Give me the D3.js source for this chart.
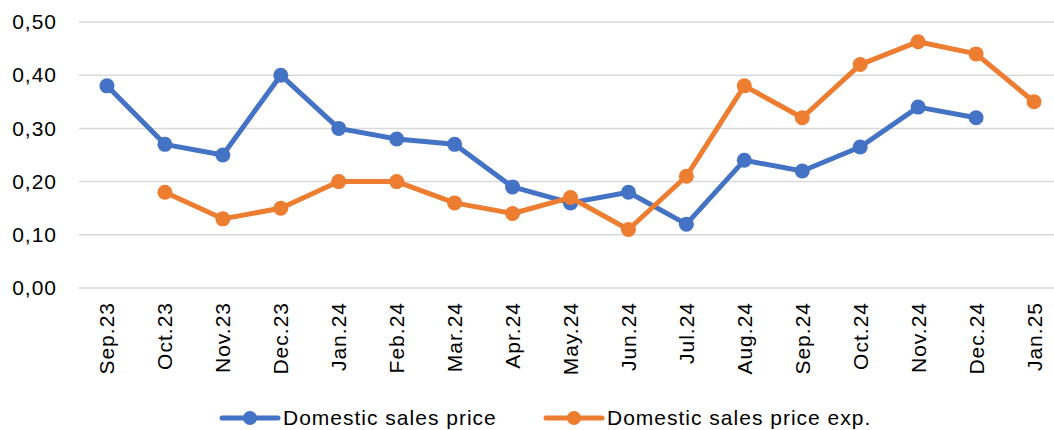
<!DOCTYPE html>
<html>
<head>
<meta charset="utf-8">
<script src="https://cdn.jsdelivr.net/npm/d3@7"></script>
<style>
  body { margin: 0; background: #fff; }
  text { font-family: "Liberation Sans", Arial, sans-serif; fill: #000; }
</style>
</head>
<body>
<svg id="chart" width="1054" height="430"></svg>
<script>
var months = ["Sep.23", "Oct.23", "Nov.23", "Dec.23", "Jan.24", "Feb.24", "Mar.24", "Apr.24", "May.24",
              "Jun.24", "Jul.24", "Aug.24", "Sep.24", "Oct.24", "Nov.24", "Dec.24", "Jan.25"];
var salesPrice = [0.38, 0.27, 0.25, 0.40, 0.30, 0.28, 0.27, 0.19, 0.16, 0.18, 0.12, 0.24, 0.22, 0.265, 0.34, 0.32, null];
var salesPriceExp = [null, 0.18, 0.13, 0.15, 0.20, 0.20, 0.16, 0.14, 0.17, 0.11, 0.21, 0.38, 0.32, 0.42, 0.463, 0.44, 0.35];
var yTicks = [0, 0.1, 0.2, 0.3, 0.4, 0.5];
var seriesNames = ["Domestic sales price", "Domestic sales price exp."];
var colors = ["#4472C4", "#ED7D31"];

var svg = d3.select("#chart");

var x = d3.scalePoint()
      .domain(months)
      .range([78, 1063])
      .padding(0.5);

var y = d3.scaleLinear()
      .domain([0, 0.5])
      .range([288, 22]);

var fmt = function(d) { return d3.format(".2f")(d).replace(".", ","); };

// gridlines
svg.append("g")
      .selectAll("line")
      .data(yTicks)
      .enter()
      .append("line")
      .attr("x1", 79)
      .attr("x2", 1054)
      .attr("y1", function(d) { return y(d); })
      .attr("y2", function(d) { return y(d); })
      .attr("stroke", "#d9d9d9")
      .attr("stroke-width", 1.5);

// y axis labels
var yAxis = svg.append("g")
      .attr("transform", "translate(57,0)")
      .call(d3.axisLeft(y).tickValues(yTicks).tickFormat(fmt).tickSize(0).tickPadding(0));
yAxis.select(".domain").remove();
yAxis.selectAll("text")
      .attr("font-size", "21px")
      .attr("letter-spacing", "1px")
      .attr("font-family", "Liberation Sans, Arial, sans-serif")
      .attr("fill", "#000");

// x axis labels
var xAxis = svg.append("g")
      .attr("transform", "translate(0,288)")
      .call(d3.axisBottom(x).tickSize(0).tickPadding(0));
xAxis.select(".domain").remove();
xAxis.selectAll("text")
      .attr("font-size", "21px")
      .attr("letter-spacing", "1px")
      .attr("font-family", "Liberation Sans, Arial, sans-serif")
      .attr("fill", "#000")
      .attr("text-anchor", "end")
      .attr("dy", null)
      .attr("y", 0)
      .attr("transform", "translate(7,14) rotate(-90)");

// lines and markers
[salesPrice, salesPriceExp].forEach(function(series, k) {
  var line = d3.line()
        .defined(function(d) { return d != null; })
        .x(function(d, i) { return x(months[i]); })
        .y(function(d) { return y(d); });

  svg.append("path")
        .datum(series)
        .attr("d", line)
        .attr("fill", "none")
        .attr("stroke", colors[k])
        .attr("stroke-width", 5)
        .attr("stroke-linejoin", "round");

  svg.append("g")
        .selectAll("circle")
        .data(series.map(function(d, i) { return {v: d, m: months[i]}; })
                    .filter(function(d) { return d.v != null; }))
        .enter()
        .append("circle")
        .attr("cx", function(d) { return x(d.m); })
        .attr("cy", function(d) { return y(d.v); })
        .attr("r", 7.5)
        .attr("fill", colors[k]);
});

// legend
var legendX = [222, 546];
var legend = svg.append("g")
      .selectAll("g")
      .data(seriesNames)
      .enter()
      .append("g")
      .attr("transform", function(d, i) { return "translate(" + legendX[i] + ",418)"; });

legend.append("line")
      .attr("x1", 0)
      .attr("x2", 56)
      .attr("stroke", function(d, i) { return colors[i]; })
      .attr("stroke-width", 5)
      .attr("stroke-linecap", "round");

legend.append("circle")
      .attr("cx", 28)
      .attr("r", 7)
      .attr("fill", function(d, i) { return colors[i]; });

legend.append("text")
      .attr("x", 61)
      .attr("y", 7)
      .attr("font-size", "21px")
      .attr("letter-spacing", "1px")
      .text(function(d) { return d; });
</script>
</body>
</html>
